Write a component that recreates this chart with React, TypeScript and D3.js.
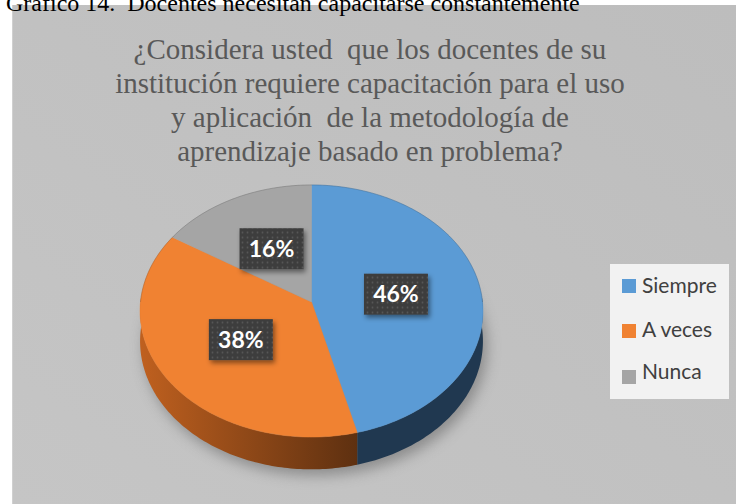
import React from "react";
import * as d3 from "d3";

const caption = "Gráfico 14.  Docentes necesitan capacitarse constantemente";
const titleLines = [
  "¿Considera usted  que los docentes de su",
  "institución requiere capacitación para el uso",
  "y aplicación  de la metodología de",
  "aprendizaje basado en problema?",
];
const categories = ["Siempre", "A veces", "Nunca"];
const values = [46, 38, 16];
const topColors = ["#5b9bd5", "#f08232", "#a5a5a5"];
const sideColorsA = ["#27425e", "#bf601f", "#7a7a7a"];
const sideColorsB = ["#203850", "#5c2f10", "#5e5e5e"];

const W = 736;
const H = 504;

// 3D projection parameters for the tilted pie
const CX = 311.5;
const YC = 302;
const RX = 171;
const RY = 125.4;
const K = 0.0714;
const DEPTH = 30;

function proj(theta: number, f: number, z: number): [number, number] {
  const u = f * Math.sin(theta);
  const v = f * Math.cos(theta);
  const d = 1 + K * v;
  return [CX + (RX * u) / d, YC - (RY * v) / d + (DEPTH * z) / d];
}

function arcPoints(a0: number, a1: number, z: number): [number, number][] {
  const n = Math.max(2, Math.ceil(((a1 - a0) * 180) / Math.PI));
  const pts: [number, number][] = [];
  for (let i = 0; i <= n; i++) {
    pts.push(proj(a0 + ((a1 - a0) * i) / n, 1, z));
  }
  return pts;
}

const line = d3.line<[number, number]>();

export default function App() {
  const pie = d3
    .pie<number>()
    .sort(null)
    .startAngle(0)
    .endAngle(Math.PI * 2)(values);

  const center = proj(0, 0, 0);
  const fullBottom = arcPoints(0, Math.PI * 2, 1);

  return (
    <svg
      width={W}
      height={H}
      style={{ position: "absolute", left: 0, top: 0, background: "#ffffff" }}
    >
      <defs>
        <linearGradient id="bg" x1="1" y1="0" x2="0" y2="1">
          <stop offset="0" stopColor="#bdbdbd" />
          <stop offset="1" stopColor="#c5c5c5" />
        </linearGradient>
        {values.map((_, i) => (
          <linearGradient
            key={i}
            id={`side${i}`}
            gradientUnits="userSpaceOnUse"
            x1={CX - RX}
            y1="0"
            x2={CX + 50}
            y2="0"
          >
            <stop offset="0" stopColor={sideColorsA[i]} />
            <stop offset="1" stopColor={sideColorsB[i]} />
          </linearGradient>
        ))}
        <filter id="shadowBlur" x="-30%" y="-30%" width="160%" height="160%">
          <feGaussianBlur stdDeviation="7" />
        </filter>
        <filter id="boxShadow" x="-30%" y="-30%" width="170%" height="170%">
          <feDropShadow dx="2" dy="3" stdDeviation="2.5" floodColor="#000" floodOpacity="0.45" />
        </filter>
        <pattern id="dots" width="5" height="5" patternUnits="userSpaceOnUse">
          <rect width="5" height="5" fill="#3d3d3d" />
          <circle cx="2.5" cy="2.5" r="0.9" fill="#565656" />
        </pattern>
      </defs>

      <rect x={12} y={5} width={W - 12} height={H - 5} fill="url(#bg)" />
      <line x1={12.5} y1={5} x2={12.5} y2={H} stroke="#d0d0d0" strokeWidth={1} />

      <text
        x={6}
        y={11}
        fontFamily="'Liberation Serif', 'Times New Roman', serif"
        fontSize={24}
        fill="#000"
        style={{ whiteSpace: "pre" }}
      >
        {caption}
      </text>

      {titleLines.map((t, i) => (
        <text
          key={i}
          x={370}
          y={59 + i * 34}
          textAnchor="middle"
          fontFamily="'Liberation Serif', 'Times New Roman', serif"
          fontSize={29}
          fill="#595959"
          style={{ whiteSpace: "pre" }}
        >
          {t}
        </text>
      ))}

      {/* shadow */}
      <path
        d={line(fullBottom.map(([x, y]) => [x + 4, y + 6]) as [number, number][]) + "Z"}
        fill="#666666"
        opacity={0.6}
        filter="url(#shadowBlur)"
      />

      {/* sides */}
      {pie.map((s, i) => {
        const a0 = Math.max(s.startAngle, Math.PI / 2 - 0.05);
        const a1 = Math.min(s.endAngle, (3 * Math.PI) / 2 + 0.05);
        if (a1 <= a0) return null;
        const top = arcPoints(a0, a1, 0);
        const bot = arcPoints(a0, a1, 1).reverse();
        return (
          <path
            key={`s${i}`}
            d={line([...top, ...bot]) + "Z"}
            fill={`url(#side${i})`}
          />
        );
      })}

      {/* tops */}
      {pie.map((s, i) => {
        const pts = [center, ...arcPoints(s.startAngle, s.endAngle, 0)];
        return (
          <path
            key={`t${i}`}
            d={line(pts) + "Z"}
            fill={topColors[i]}
            stroke={topColors[i]}
            strokeWidth={0.5}
          />
        );
      })}
      <path
        d={line(arcPoints(-Math.PI / 2, Math.PI / 2, 0)) || ""}
        fill="none"
        stroke="#000"
        strokeOpacity={0.15}
        strokeWidth={1}
      />

      {/* labels */}
      {pie.map((s, i) => {
        const mid = (s.startAngle + s.endAngle) / 2;
        const [lx, ly] = proj(mid, 0.5, 0);
        const total = d3.sum(values);
        const txt = `${Math.round((s.value / total) * 100)}%`;
        return (
          <g key={`l${i}`}>
            <rect
              x={lx - 32}
              y={ly - 20.5}
              width={64}
              height={41}
              fill="url(#dots)"
              filter="url(#boxShadow)"
            />
            <text
              x={lx}
              y={ly + 8}
              textAnchor="middle"
              fontFamily="Lato, 'Noto Sans', sans-serif"
              fontWeight={700}
              fontSize={23}
              fill="#ffffff"
            >
              {txt}
            </text>
          </g>
        );
      })}

      {/* legend */}
      <rect x={610} y={264} width={119} height={135} fill="#f2f2f2" />
      {categories.map((c, i) => {
        const sq = [279, 324, 370][i];
        const bl = [293, 337, 379][i];
        return (
          <g key={`g${i}`}>
            <rect x={622} y={sq} width={14} height={14} fill={topColors[i]} />
            <text
              x={642}
              y={bl}
              fontFamily="Lato, 'Noto Sans', sans-serif"
              fontSize={21}
              fill="#404040"
            >
              {c}
            </text>
          </g>
        );
      })}
    </svg>
  );
}
